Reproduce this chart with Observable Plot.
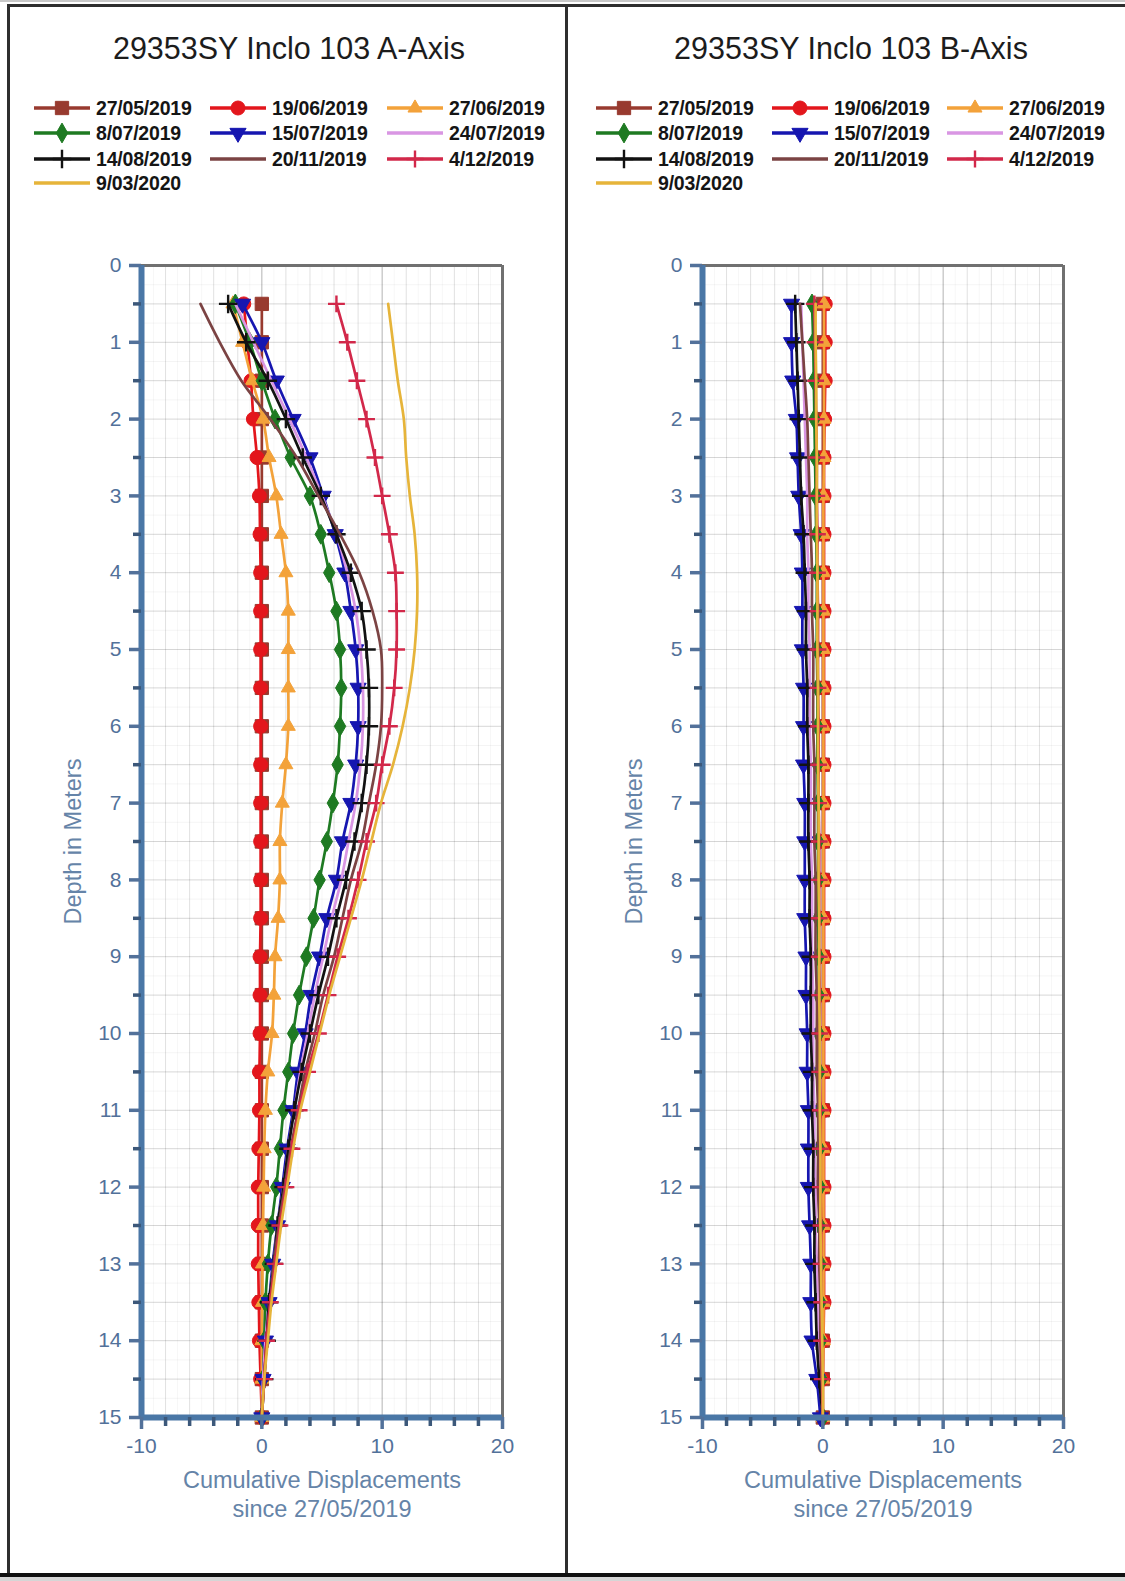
<!DOCTYPE html>
<html>
<head>
<meta charset="utf-8">
<script src="https://cdn.jsdelivr.net/npm/d3@7"></script>
<script src="https://cdn.jsdelivr.net/npm/@observablehq/plot@0.6"></script>
<style>
  html, body { margin: 0; padding: 0; background: #fff; }
  body { font-family: "Liberation Sans", Arial, sans-serif; }
  #page { position: relative; width: 1125px; height: 1581px; overflow: hidden; background: #fff; }
  .title { position: absolute; font-size: 30.5px; line-height: 34px; color: #1c1c1c; white-space: nowrap; transform: translateX(-50%); }
  .legtext { position: absolute; font-size: 19.5px; line-height: 22px; font-weight: bold; color: #151515; white-space: nowrap; letter-spacing: -0.2px; }
  .line { position: absolute; background: #2e2e2e; }
</style>
</head>
<body>
<div id="page"></div>
<script>
// ---------------- DATA ----------------
const depths = [0.5, 1.0, 1.5, 2.0, 2.5, 3.0, 3.5, 4.0, 4.5, 5.0, 5.5, 6.0, 6.5, 7.0, 7.5,
                8.0, 8.5, 9.0, 9.5, 10.0, 10.5, 11.0, 11.5, 12.0, 12.5, 13.0, 13.5, 14.0, 14.5, 15.0];

const dates = ["27/05/2019", "19/06/2019", "27/06/2019", "8/07/2019", "15/07/2019",
               "24/07/2019", "14/08/2019", "20/11/2019", "4/12/2019", "9/03/2020"];

const depthTickLabels = [0, 1, 2, 3, 4, 5, 6, 7, 8, 9, 10, 11, 12, 13, 14, 15];
const dispTickLabels = [-10, 0, 10, 20];

const titleA = "29353SY Inclo 103 A-Axis";
const titleB = "29353SY Inclo 103 B-Axis";
const yTitle = "Depth in Meters";
const xTitle = "Cumulative Displacements\nsince 27/05/2019";

// A-Axis cumulative displacement (mm) at each depth
const a_27052019 = [0, 0, 0, 0, 0, 0, 0, 0, 0, 0, 0, 0, 0, 0, 0, 0, 0, 0, 0, 0, 0, 0, 0, 0, 0, 0, 0, 0, 0, 0];
const a_19062019 = [-1.5, -1.2, -0.9, -0.7, -0.4, -0.2, -0.15, -0.1, -0.1, -0.1, -0.1, -0.1, -0.1, -0.1, -0.1,
                    -0.1, -0.1, -0.15, -0.15, -0.15, -0.2, -0.2, -0.25, -0.3, -0.3, -0.3, -0.25, -0.2, -0.1, 0];
const a_27062019 = [-2.4, -1.6, -0.8, 0.1, 0.6, 1.2, 1.6, 2.0, 2.2, 2.2, 2.2, 2.2, 2.0, 1.7, 1.5,
                    1.5, 1.35, 1.1, 1.0, 0.85, 0.5, 0.3, 0.2, 0.15, 0.1, 0.05, 0.05, 0, 0, 0];
const a_08072019 = [-2.2, -1.0, 0.0, 1.1, 2.4, 4.0, 4.9, 5.6, 6.2, 6.5, 6.6, 6.5, 6.3, 5.9, 5.4,
                    4.8, 4.3, 3.7, 3.1, 2.6, 2.2, 1.8, 1.5, 1.2, 0.8, 0.5, 0.3, 0.2, 0.1, 0];
const a_15072019 = [-1.6, 0.0, 1.2, 2.6, 4.0, 5.1, 6.1, 6.9, 7.4, 7.8, 8.0, 8.0, 7.8, 7.4, 6.7,
                    6.2, 5.4, 4.8, 4.1, 3.6, 3.0, 2.6, 2.1, 1.7, 1.3, 0.9, 0.6, 0.3, 0.1, 0];
const a_24072019 = [-2.2, -0.7, 0.8, 2.3, 3.7, 5.0, 6.2, 7.1, 7.8, 8.2, 8.4, 8.4, 8.2, 7.8, 7.2,
                    6.6, 5.8, 5.1, 4.4, 3.8, 3.2, 2.7, 2.2, 1.8, 1.3, 1.0, 0.6, 0.3, 0.1, 0];
const a_14082019 = [-2.8, -1.3, 0.5, 2.0, 3.4, 4.9, 6.2, 7.4, 8.3, 8.7, 8.9, 8.9, 8.7, 8.3, 7.7,
                    7.0, 6.2, 5.5, 4.7, 4.0, 3.3, 2.7, 2.2, 1.8, 1.3, 1.0, 0.6, 0.4, 0.2, 0];
const a_20112019 = [-5.1, -3.5, -1.7, 0.7, 2.9, 4.7, 6.5, 8.1, 9.2, 9.9, 10.0, 9.9, 9.5, 8.9, 8.3,
                    7.4, 6.7, 6.0, 5.1, 4.4, 3.6, 3.0, 2.4, 1.9, 1.4, 1.0, 0.7, 0.4, 0.2, 0];
const a_04122019 = [6.2, 7.1, 7.9, 8.7, 9.4, 10.0, 10.6, 11.1, 11.2, 11.2, 11.0, 10.6, 10.0, 9.5, 8.7,
                    8.0, 7.2, 6.3, 5.5, 4.7, 3.8, 3.1, 2.5, 2.0, 1.5, 1.1, 0.7, 0.4, 0.2, 0];
const a_09032020 = [10.5, 10.9, 11.3, 11.8, 12.0, 12.3, 12.7, 12.9, 12.9, 12.7, 12.3, 11.7, 10.9, 9.9, 9.1,
                    8.3, 7.4, 6.5, 5.6, 4.8, 4.0, 3.2, 2.6, 2.1, 1.6, 1.2, 0.8, 0.5, 0.2, 0];

// B-Axis cumulative displacement (mm) at each depth
const b_27052019 = [0, 0, 0, 0, 0, 0, 0, 0, 0, 0, 0, 0, 0, 0, 0, 0, 0, 0, 0, 0, 0, 0, 0, 0, 0, 0, 0, 0, 0, 0];
const b_19062019 = [0.2, 0.2, 0.2, 0.15, 0.1, 0.1, 0.1, 0.1, 0.1, 0.1, 0.1, 0.1, 0.1, 0.1, 0.1,
                    0.1, 0.1, 0.1, 0.1, 0.1, 0.1, 0.1, 0.1, 0.1, 0.1, 0.1, 0.1, 0.05, 0, 0];
const b_27062019 = [0.1, 0.1, 0.1, 0.1, 0.1, 0.05, 0.05, 0.05, 0.05, 0.05, 0.05, 0.05, 0.05, 0.05, 0.05,
                    0.05, 0.05, 0.05, 0.05, 0.05, 0.05, 0.05, 0.05, 0.05, 0.05, 0.05, 0.05, 0.05, 0, 0];
const b_08072019 = [-0.9, -0.8, -0.75, -0.7, -0.65, -0.6, -0.55, -0.5, -0.5, -0.5, -0.45, -0.45, -0.45, -0.4, -0.4,
                    -0.4, -0.4, -0.35, -0.35, -0.35, -0.3, -0.3, -0.3, -0.25, -0.25, -0.2, -0.2, -0.15, -0.1, 0];
const b_15072019 = [-2.6, -2.6, -2.5, -2.2, -2.1, -2.0, -1.8, -1.7, -1.7, -1.7, -1.6, -1.6, -1.6, -1.5, -1.5,
                    -1.5, -1.5, -1.4, -1.4, -1.3, -1.3, -1.2, -1.2, -1.2, -1.1, -1.0, -1.0, -0.9, -0.5, -0.2];
const b_24072019 = [-1.8, -1.7, -1.6, -1.5, -1.4, -1.3, -1.3, -1.2, -1.2, -1.1, -1.1, -1.1, -1.0, -1.0, -1.0,
                    -0.9, -0.9, -0.9, -0.8, -0.8, -0.8, -0.7, -0.7, -0.6, -0.6, -0.5, -0.4, -0.3, -0.2, 0];
const b_14082019 = [-2.3, -2.2, -2.1, -2.0, -1.9, -1.8, -1.6, -1.5, -1.4, -1.4, -1.3, -1.3, -1.2, -1.2, -1.2,
                    -1.1, -1.1, -1.0, -1.0, -1.0, -0.9, -0.9, -0.8, -0.8, -0.7, -0.7, -0.6, -0.5, -0.3, 0];
const b_20112019 = [-1.9, -1.7, -1.5, -1.3, -1.2, -1.1, -1.0, -0.9, -0.9, -0.8, -0.8, -0.8, -0.7, -0.7, -0.7,
                    -0.6, -0.6, -0.6, -0.5, -0.5, -0.5, -0.4, -0.4, -0.4, -0.3, -0.3, -0.2, -0.2, -0.1, 0];
const b_04122019 = [-0.7, -0.65, -0.6, -0.55, -0.5, -0.5, -0.45, -0.45, -0.4, -0.4, -0.4, -0.35, -0.35, -0.35, -0.3,
                    -0.3, -0.3, -0.3, -0.25, -0.25, -0.25, -0.2, -0.2, -0.2, -0.15, -0.15, -0.1, -0.1, -0.05, 0];
const b_09032020 = [-0.6, -0.6, -0.55, -0.55, -0.5, -0.5, -0.5, -0.45, -0.45, -0.45, -0.4, -0.4, -0.4, -0.35, -0.35,
                    -0.35, -0.3, -0.3, -0.3, -0.25, -0.25, -0.25, -0.2, -0.2, -0.2, -0.15, -0.1, -0.05, 0, 0];

const seriesA = [a_27052019, a_19062019, a_27062019, a_08072019, a_15072019, a_24072019, a_14082019, a_20112019, a_04122019, a_09032020];
const seriesB = [b_27052019, b_19062019, b_27062019, b_08072019, b_15072019, b_24072019, b_14082019, b_20112019, b_04122019, b_09032020];

// ---------------- STYLES ----------------
const triangleDown = {
  draw(context, size) {
    const y = -Math.sqrt(size / (Math.sqrt(3) * 3));
    context.moveTo(0, -y * 2);
    context.lineTo(-Math.sqrt(3) * y, y);
    context.lineTo(Math.sqrt(3) * y, y);
    context.closePath();
  }
};
const styles = [
  {color: "#983a2f", symbol: "square", r: 7.5, filled: true},
  {color: "#e3161c", symbol: "circle", r: 7, filled: true},
  {color: "#f3a23a", symbol: "triangle", r: 5.2, filled: true},
  {color: "#1e7a22", symbol: "diamond", r: 6, filled: true},
  {color: "#1616b0", symbol: triangleDown, r: 6, filled: true},
  {color: "#d996e3", symbol: null},
  {color: "#121212", symbol: "plus", r: 6, filled: false},
  {color: "#7b4343", symbol: null},
  {color: "#d2284a", symbol: "plus", r: 5.5, filled: false},
  {color: "#e6b43a", symbol: null}
];
const lineWidth = 2.7;

const axisBlue = "#4a77a6";
const tickText = "#52719a";
const titleBlue = "#6584a8";

// ---------------- LAYOUT ----------------
const page = document.getElementById("page");
function addDiv(cls, css, text) {
  const d = document.createElement("div");
  d.className = cls;
  Object.assign(d.style, css);
  if (text != null) d.textContent = text;
  page.appendChild(d);
  return d;
}

function makeChart(series, left, width, marginLeft, marginRight) {
  const marks = [
    Plot.gridY({ticks: d3.range(0, 15.001, 0.25), stroke: "#000", strokeOpacity: 0.045, strokeWidth: 1}),
    Plot.gridY({ticks: d3.range(0, 15.001, 0.5), stroke: "#000", strokeOpacity: 0.12, strokeWidth: 1}),
    Plot.gridX({ticks: d3.range(-10, 20.001, 1), stroke: "#000", strokeOpacity: 0.035, strokeWidth: 1}),
    Plot.gridX({ticks: d3.range(-10, 20.001, 2), stroke: "#000", strokeOpacity: 0.09, strokeWidth: 1}),
    Plot.gridX({ticks: dispTickLabels, stroke: "#000", strokeOpacity: 0.16, strokeWidth: 1.2}),
    Plot.ruleY([0], {stroke: "#707070", strokeWidth: 3}),
    Plot.ruleX([20], {stroke: "#707070", strokeWidth: 3}),
  ];

  series.forEach((vals, i) => {
    const st = styles[i];
    const data = vals.map((v, k) => ({d: depths[k], v}));
    marks.push(Plot.line(data, {x: "v", y: "d", stroke: st.color, strokeWidth: lineWidth, curve: "catmull-rom"}));
    if (st.symbol) {
      marks.push(Plot.dot(data, {
        x: "v", y: "d", symbol: () => st.symbol, r: st.r,
        fill: st.filled ? st.color : "none",
        stroke: st.color, strokeWidth: st.filled ? 1 : 2.4
      }));
    }
  });

  const fmt = d => String(d);
  marks.push(
    Plot.ruleX([-10], {stroke: axisBlue, strokeWidth: 6}),
    Plot.ruleY([15], {stroke: axisBlue, strokeWidth: 6}),
    Plot.axisY({anchor: "left", ticks: d3.range(0.5, 15, 1), tickSize: 8, tickFormat: () => "", label: null, color: "#3c587a", strokeWidth: 3.5}),
    Plot.axisY({anchor: "left", ticks: depthTickLabels, tickSize: 12, tickPadding: 8, tickFormat: fmt, label: null, color: tickText, fontSize: 21, strokeWidth: 3.5}),
    Plot.axisX({anchor: "bottom", ticks: d3.range(-8, 20, 2).filter(t => t % 10 !== 0), tickSize: 9, tickFormat: () => "", label: null, color: "#3c587a", strokeWidth: 3.5}),
    Plot.axisX({anchor: "bottom", ticks: dispTickLabels, tickSize: 12, tickPadding: 9, tickFormat: fmt, label: null, color: tickText, fontSize: 21, strokeWidth: 3.5}),
    Plot.text([yTitle], {frameAnchor: "left", textAnchor: "middle", rotate: -90, dx: -68, fontSize: 23.5, fill: titleBlue}),
    Plot.text([xTitle], {frameAnchor: "bottom", textAnchor: "middle", lineAnchor: "top", dy: 50, fontSize: 23.5, lineHeight: 1.24, fill: titleBlue})
  );

  const svg = Plot.plot({
    width, height: 1570,
    marginLeft, marginRight, marginTop: 260, marginBottom: 158,
    x: {domain: [-10, 20]},
    y: {domain: [0, 15], reverse: true},
    style: {fontFamily: '"Liberation Sans", Arial, sans-serif', background: "transparent", overflow: "visible"},
    marks
  });
  svg.style.position = "absolute";
  svg.style.left = left + "px";
  svg.style.top = "5px";
  page.appendChild(svg);
}

function makeLegend(colX, rowY) {
  dates.forEach((label, i) => {
    const st = styles[i];
    const col = i % 3, row = Math.floor(i / 3);
    const x = colX[col], y = rowY[row];
    const sw = d3.create("svg").attr("width", 58).attr("height", 22)
      .style("position", "absolute").style("left", x + "px").style("top", (y - 11) + "px");
    sw.append("line").attr("x1", 1).attr("x2", 57).attr("y1", 11).attr("y2", 11)
      .attr("stroke", st.color).attr("stroke-width", 3.4);
    if (st.symbol) {
      const symType = typeof st.symbol === "string"
        ? {square: d3.symbolSquare, circle: d3.symbolCircle, triangle: d3.symbolTriangle, diamond: d3.symbolDiamond, plus: d3.symbolPlus}[st.symbol]
        : st.symbol;
      sw.append("path").attr("transform", "translate(29,11)")
        .attr("d", d3.symbol(symType, Math.PI * st.r * st.r)())
        .attr("fill", st.filled ? st.color : "none")
        .attr("stroke", st.color).attr("stroke-width", st.filled ? 1 : 2.4);
    }
    page.appendChild(sw.node());
    addDiv("legtext", {left: (x + 63) + "px", top: (y - 11) + "px"}, label);
  });
}

makeChart(seriesA, 8, 558, 133, 64);
makeChart(seriesB, 568, 557, 134, 62);

addDiv("title", {left: "289px", top: "31px"}, titleA);
addDiv("title", {left: "851px", top: "31px"}, titleB);

makeLegend([33, 209, 386], [108, 133, 159, 183]);
makeLegend([595, 771, 946], [108, 133, 159, 183]);

addDiv("line", {left: "0px", top: "0px", width: "1125px", height: "2px", background: "#c8c8c8"});
addDiv("line", {left: "7px", top: "4px", width: "1118px", height: "3px"});
addDiv("line", {left: "7px", top: "4px", width: "3px", height: "1572px"});
addDiv("line", {left: "565px", top: "4px", width: "3px", height: "1572px"});
addDiv("line", {left: "0px", top: "1573px", width: "1125px", height: "4px", background: "#111"});
addDiv("line", {left: "0px", top: "1577px", width: "1125px", height: "4px", background: "#d6d6d6"});
</script>
</body>
</html>
